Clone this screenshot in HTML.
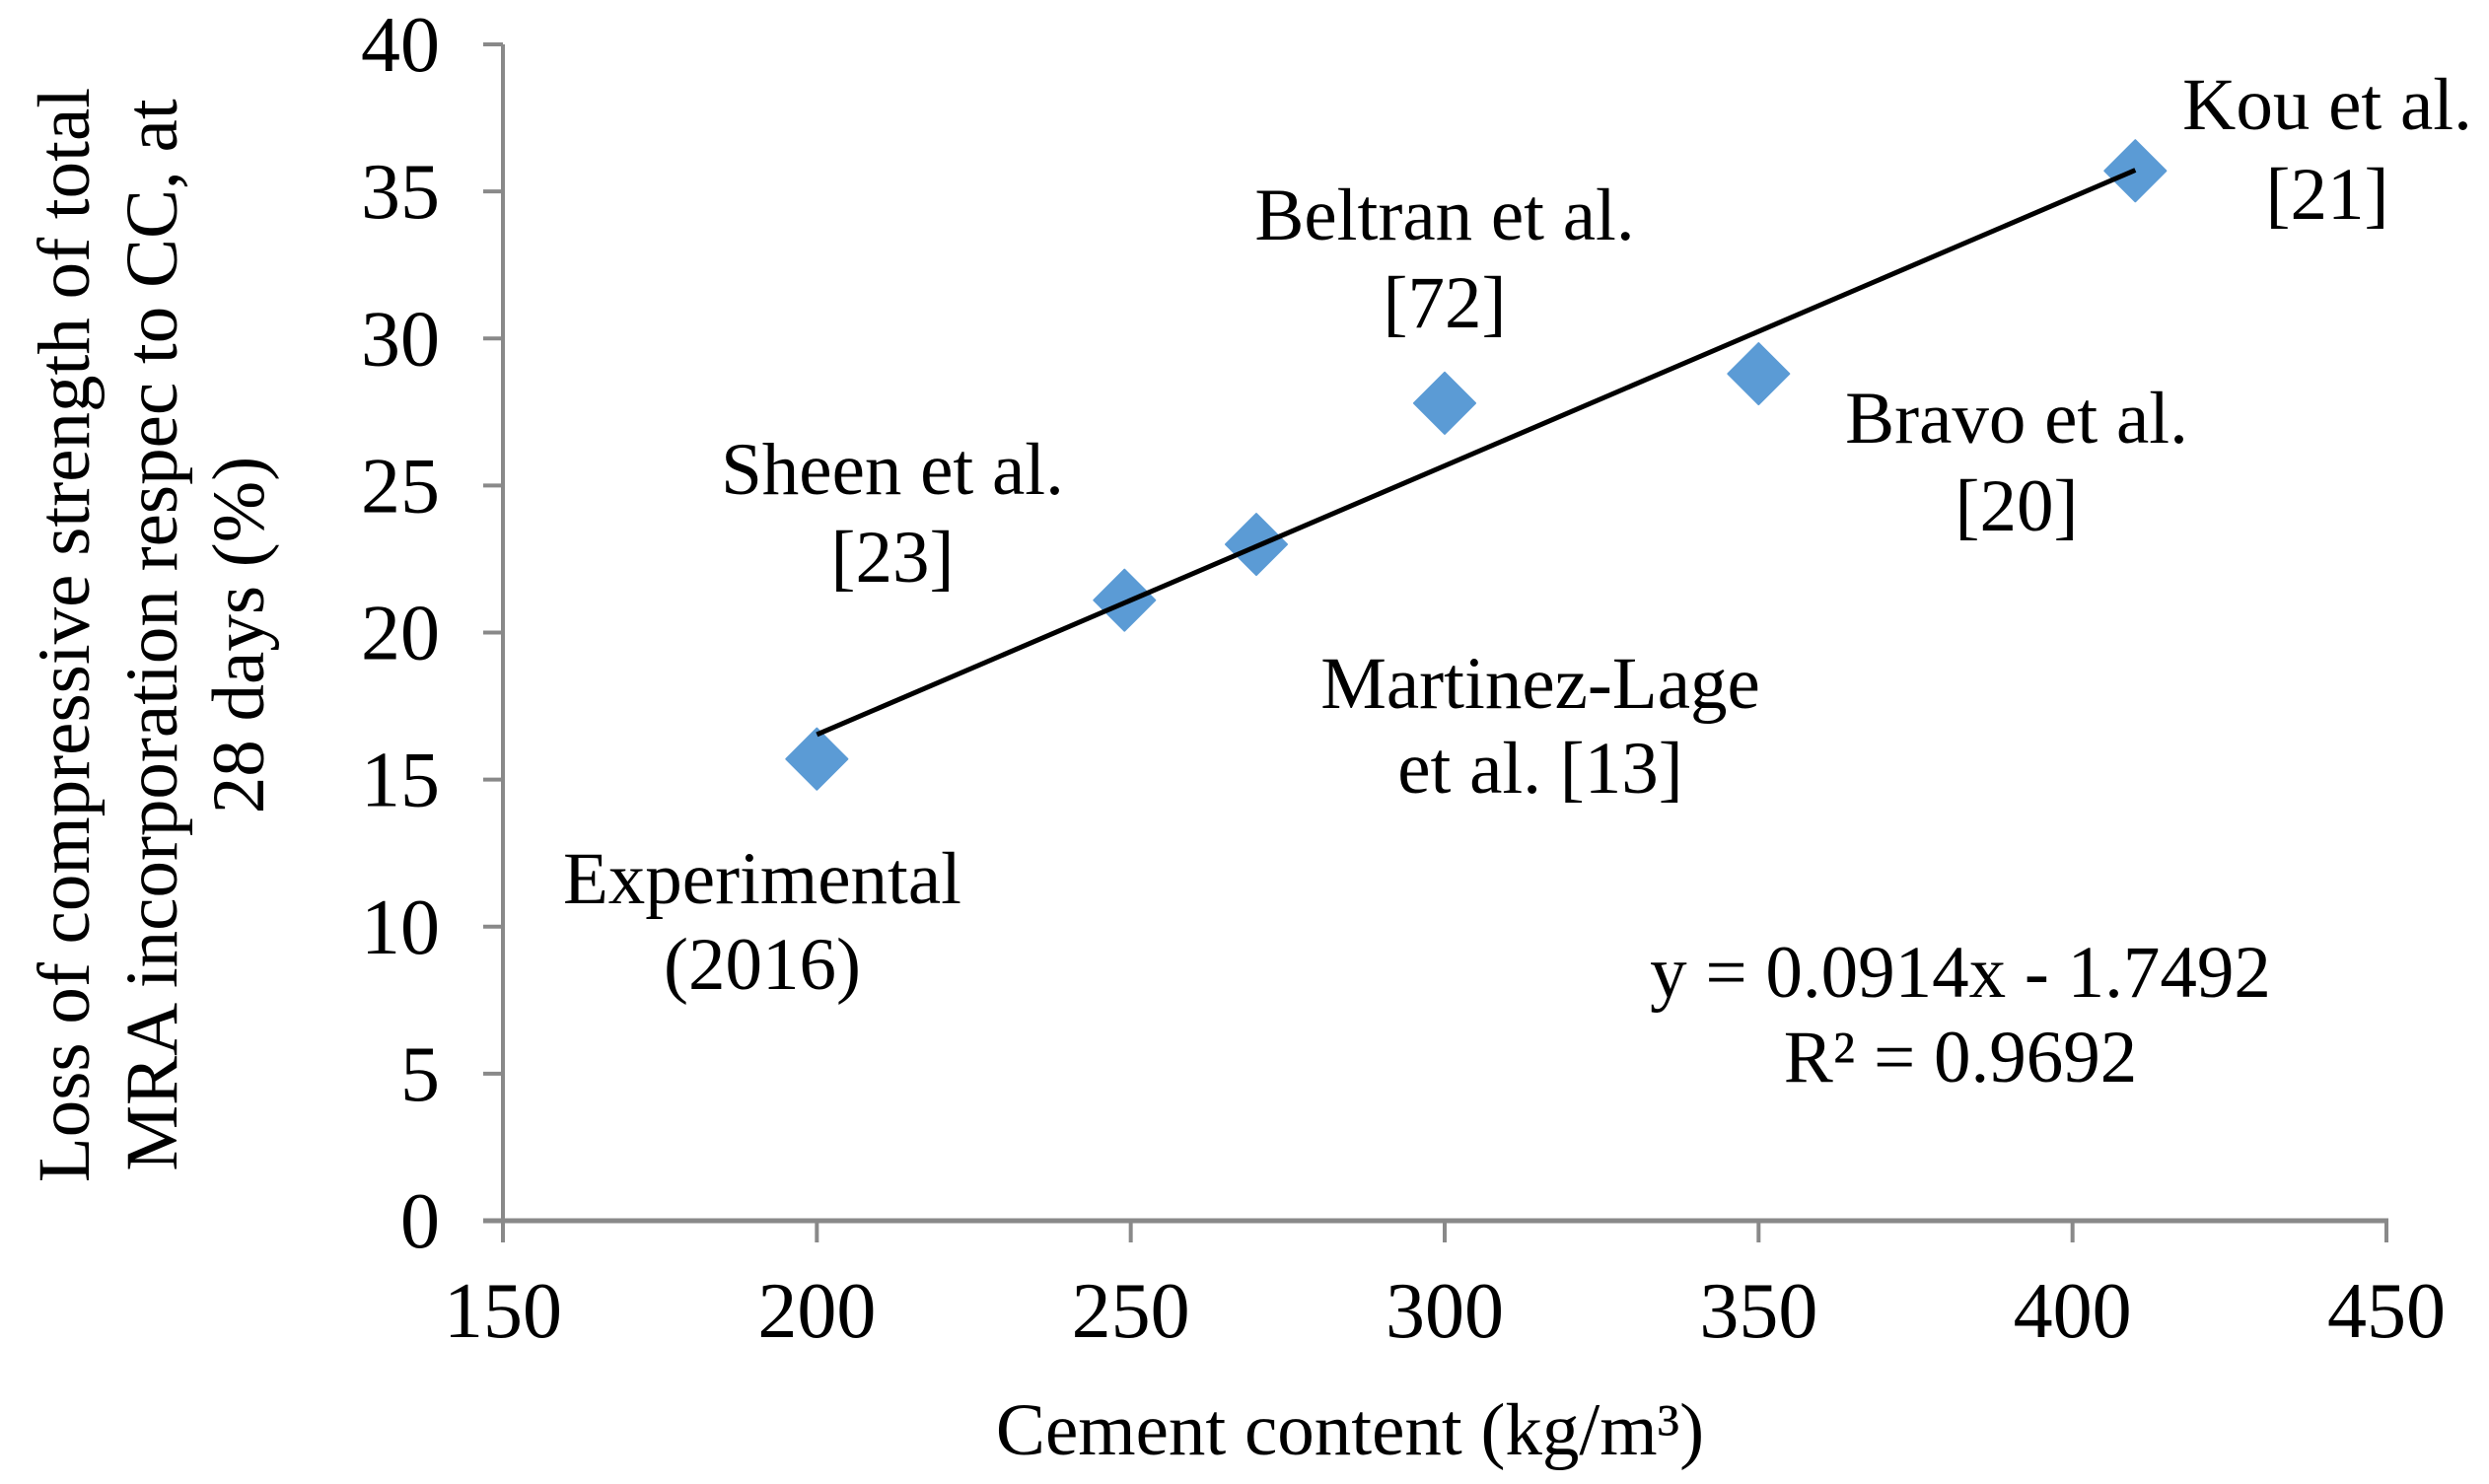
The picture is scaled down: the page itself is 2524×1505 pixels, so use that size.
<!DOCTYPE html>
<html><head><meta charset="utf-8"><style>
html,body{margin:0;padding:0;background:#fff;}
svg{display:block;font-family:"Liberation Serif",serif;}
</style></head><body>
<svg id="chart" width="2524" height="1505" viewBox="0 0 2524 1505" xmlns="http://www.w3.org/2000/svg">
<g id="axes"></g>
<g id="marks"></g>
<g id="labels" font-size="75" text-anchor="middle" fill="#000">
<text x="2360" y="131">Kou et al.</text>
<text x="2360" y="222">[21]</text>
<text x="1465" y="243">Beltran et al.</text>
<text x="1465" y="332">[72]</text>
<text x="2045" y="449">Bravo et al.</text>
<text x="2045" y="538">[20]</text>
<text x="905" y="501">Sheen et al.</text>
<text x="905" y="590">[23]</text>
<text x="1562" y="718">Martinez-Lage</text>
<text x="1562" y="804">et al. [13]</text>
<text x="773" y="916">Experimental</text>
<text x="773" y="1003">(2016)</text>
<text x="1988" y="1011">y = 0.0914x - 1.7492</text>
<text x="1988" y="1097">R² = 0.9692</text>
<text x="1369" y="1475">Cement content (kg/m³)</text>
<g transform="translate(64,644) rotate(-90)">
<text x="0" y="26">Loss of compressive strength of total</text>
<text x="0" y="115">MRA incorporation respec to CC, at</text>
<text x="0" y="203">28 days (%)</text>
</g>
</g>
</svg>
<script>
const xTicks = [150, 200, 250, 300, 350, 400, 450];
const yTicks = [0, 5, 10, 15, 20, 25, 30, 35, 40];
const xValues = [200, 249, 270, 300, 350, 410];
const yValues = [15.7, 21.1, 23.0, 27.8, 28.8, 35.7];
const trendSlope = 0.0914;
const trendIntercept = -1.7492;

const NS = 'http://www.w3.org/2000/svg';
const X0 = 510, X1 = 2420, Y0 = 1238, Y1 = 45;
function sx(v){ return X0 + (v - 150) / 300 * (X1 - X0); }
function sy(v){ return Y0 - v / 40 * (Y0 - Y1); }
function mk(tag, attrs, parent){ const e = document.createElementNS(NS, tag); for (const k in attrs) e.setAttribute(k, attrs[k]); parent.appendChild(e); return e; }

const axes = document.getElementById('axes');
const yAxis = mk('line', {x1: X0, y1: Y1, x2: X0, y2: Y0, stroke: '#898989', 'stroke-width': 4}, axes);


const xAxis = mk('line', {x1: X0 - 20, y1: Y0, x2: X1 + 2, y2: Y0, stroke: '#898989', 'stroke-width': 5}, axes);


yTicks.forEach(v => {
  const t = mk('line', {x1: X0 - 20, y1: sy(v), x2: X0, y2: sy(v), stroke: '#898989', 'stroke-width': 4}, axes);
  
  
  const l = mk('text', {x: 446, y: sy(v) + 27, 'font-size': 80, 'text-anchor': 'end'}, axes);
  l.textContent = v;
  
  
});
xTicks.forEach(v => {
  const t = mk('line', {x1: sx(v), y1: Y0, x2: sx(v), y2: Y0 + 22, stroke: '#898989', 'stroke-width': 4}, axes);
  
  
  const l = mk('text', {x: sx(v), y: 1356, 'font-size': 80, 'text-anchor': 'middle'}, axes);
  l.textContent = v;
  
  
});

const marks = document.getElementById('marks');
const r = 31;
xValues.forEach((xv, i) => {
  const cx = sx(xv), cy = sy(yValues[i]);
  const p = mk('polygon', {points: `${cx},${cy-r} ${cx+r},${cy} ${cx},${cy+r} ${cx-r},${cy}`, fill: '#5b9bd5', 'stroke-linejoin': 'round', stroke: '#5b9bd5', 'stroke-width': 2}, marks);
  
  
});
const xmin = Math.min(...xValues), xmax = Math.max(...xValues);
const tl = mk('line', {x1: sx(xmin), y1: sy(trendSlope*xmin + trendIntercept), x2: sx(xmax), y2: sy(trendSlope*xmax + trendIntercept), stroke: '#000', 'stroke-width': 5}, marks);


</script>
</body></html>
